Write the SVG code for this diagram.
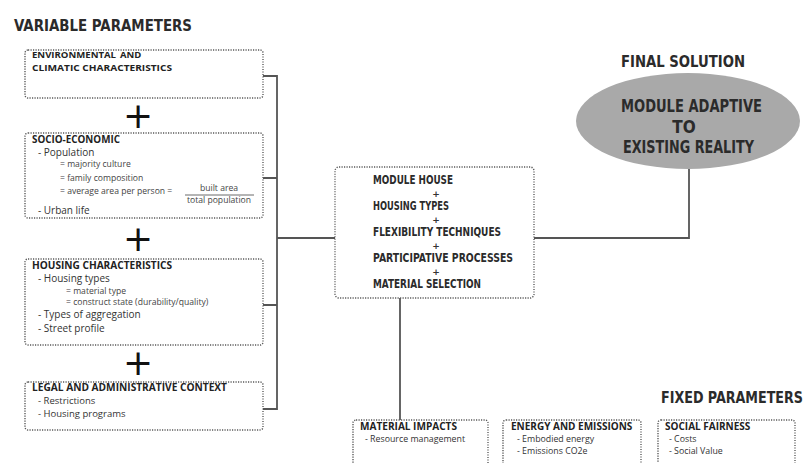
<svg xmlns="http://www.w3.org/2000/svg" width="808" height="463" viewBox="0 0 808 463">
<style>
.box{fill:none;stroke:#5a5a5a;stroke-width:1.4;stroke-dasharray:1.2 1.3}
.con{fill:none;stroke:#555;stroke-width:1.8}
.ttl{font-family:"DejaVu Sans Condensed","DejaVu Sans",sans-serif;font-weight:bold;fill:#2b2b2b}
.h{font-family:"Open Sans","Noto Sans",sans-serif;font-weight:bold;font-size:10px;fill:#222}
.h2{font-family:"Open Sans","Noto Sans",sans-serif;font-weight:bold;font-size:9.5px;fill:#222}
.t{font-family:"Open Sans","Noto Sans",sans-serif;font-size:10px;fill:#333}
.t2{font-family:"Open Sans","Noto Sans",sans-serif;font-size:9.5px;fill:#333}
.b{font-family:"Open Sans","Noto Sans",sans-serif;font-size:8.8px;fill:#333}
.s{font-family:"Open Sans","Noto Sans",sans-serif;font-size:8.6px;fill:#444}
.plus{font-family:"DejaVu Sans",sans-serif;font-size:36px;fill:#111;text-anchor:middle}
.cp{font-family:"DejaVu Sans",sans-serif;font-size:9px;font-weight:bold;fill:#333;text-anchor:middle}
</style>
<rect width="808" height="463" fill="#fff"/>
<text class="ttl" x="14" y="31" font-size="15" textLength="178" lengthAdjust="spacingAndGlyphs">VARIABLE PARAMETERS</text>

<g id="connectors">
<path class="con" d="M263 76H277V409H263M263 178H277M263 305H277M277 238H335"/>
<path class="con" d="M534 238H689V169"/>
<path class="con" d="M400 298V420"/>
</g>

<g id="env">
<rect class="box" x="25" y="50" width="238" height="48" rx="3"/>
<text class="h2" x="32" y="58" textLength="84" lengthAdjust="spacingAndGlyphs">ENVIRONMENTAL</text>
<text class="h2" x="120" y="58" font-weight="normal">AND</text>
<text class="h2" x="32" y="71" textLength="140" lengthAdjust="spacingAndGlyphs">CLIMATIC CHARACTERISTICS</text>
</g>
<text class="plus" x="138" y="128">+</text>

<g id="socio">
<rect class="box" x="25" y="133" width="238" height="85" rx="3"/>
<text class="h" x="32" y="143" textLength="88" lengthAdjust="spacingAndGlyphs">SOCIO-ECONOMIC</text>
<text class="t" x="38" y="156">- Population</text>
<text class="s" x="60" y="167">= majority culture</text>
<text class="s" x="60" y="181">= family composition</text>
<text class="s" x="60" y="194">= average area per person =</text>
<text class="s" x="219" y="191" text-anchor="middle">built area</text>
<line x1="185" y1="195" x2="254" y2="195" stroke="#444" stroke-width="0.8"/>
<text class="s" x="219" y="203" text-anchor="middle">total population</text>
<text class="t" x="38" y="214">- Urban life</text>
</g>
<text class="plus" x="138" y="251">+</text>

<g id="housing">
<rect class="box" x="25" y="259" width="238" height="86" rx="3"/>
<text class="h" x="32" y="269" textLength="140" lengthAdjust="spacingAndGlyphs">HOUSING CHARACTERISTICS</text>
<text class="t" x="38" y="282">- Housing types</text>
<text class="s" x="66" y="294">= material type</text>
<text class="s" x="66" y="305">= construct state (durability/quality)</text>
<text class="t" x="38" y="318">- Types of aggregation</text>
<text class="t" x="38" y="332">- Street profile</text>
</g>
<text class="plus" x="138" y="375">+</text>

<g id="legal">
<rect class="box" x="25" y="382" width="238" height="48" rx="3"/>
<text class="h" x="32" y="391" textLength="195" lengthAdjust="spacingAndGlyphs">LEGAL AND ADMINISTRATIVE CONTEXT</text>
<text class="t2" x="38" y="404">- Restrictions</text>
<text class="t2" x="38" y="417">- Housing programs</text>
</g>

<g id="center">
<rect class="box" x="335" y="167" width="199" height="131" rx="4"/>
<text class="ttl" x="373" y="184" font-size="12.5" textLength="80" lengthAdjust="spacingAndGlyphs">MODULE HOUSE</text>
<text class="cp" x="436" y="197">+</text>
<text class="ttl" x="373" y="210" font-size="12.5" textLength="76" lengthAdjust="spacingAndGlyphs">HOUSING TYPES</text>
<text class="cp" x="436" y="223">+</text>
<text class="ttl" x="373" y="236" font-size="12.5" textLength="128" lengthAdjust="spacingAndGlyphs">FLEXIBILITY TECHNIQUES</text>
<text class="cp" x="436" y="249">+</text>
<text class="ttl" x="373" y="262" font-size="12.5" textLength="140" lengthAdjust="spacingAndGlyphs">PARTICIPATIVE PROCESSES</text>
<text class="cp" x="436" y="275">+</text>
<text class="ttl" x="373" y="288" font-size="12.5" textLength="108" lengthAdjust="spacingAndGlyphs">MATERIAL SELECTION</text>
</g>

<g id="final">
<text class="ttl" x="621" y="67" font-size="15" textLength="124" lengthAdjust="spacingAndGlyphs">FINAL SOLUTION</text>
<ellipse cx="688" cy="121" rx="112" ry="48" fill="#a9a9a9"/>
<text class="ttl" x="621" y="112" font-size="17" textLength="141" lengthAdjust="spacingAndGlyphs">MODULE ADAPTIVE</text>
<text class="ttl" x="684" y="133" font-size="17" text-anchor="middle">TO</text>
<text class="ttl" x="623" y="153" font-size="17" textLength="131" lengthAdjust="spacingAndGlyphs">EXISTING REALITY</text>
</g>

<text class="ttl" transform="translate(661 403) scale(1 1.2)" x="0" y="0" font-size="13" textLength="142" lengthAdjust="spacingAndGlyphs">FIXED PARAMETERS</text>

<g id="material">
<rect class="box" x="353" y="420" width="135" height="60" rx="3"/>
<text class="h" x="360" y="430" textLength="97" lengthAdjust="spacingAndGlyphs">MATERIAL IMPACTS</text>
<text class="b" x="365" y="442">- Resource management</text>
</g>
<g id="energy">
<rect class="box" x="503" y="420" width="138" height="60" rx="3"/>
<text class="h" x="511" y="430">ENERGY AND EMISSIONS</text>
<text class="b" x="517" y="442">- Embodied energy</text>
<text class="b" x="517" y="454">- Emissions CO2e</text>
</g>
<g id="social">
<rect class="box" x="658" y="420" width="137" height="60" rx="3"/>
<text class="h" x="665" y="430">SOCIAL FAIRNESS</text>
<text class="b" x="669" y="442">- Costs</text>
<text class="b" x="669" y="454">- Social Value</text>
</g>
</svg>
